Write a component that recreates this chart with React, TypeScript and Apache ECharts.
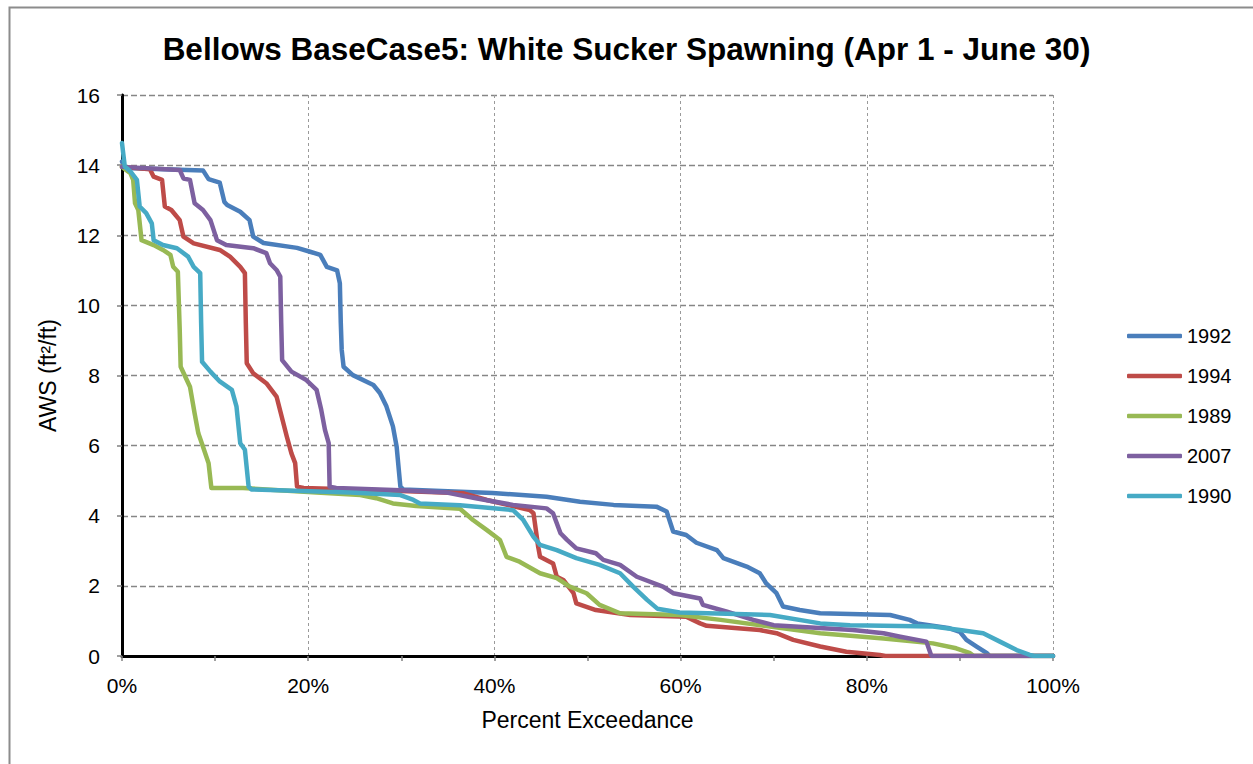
import React, { useEffect, useRef } from "react";
import * as echarts from "echarts";

const seriesNames = ["1992", "1994", "1989", "2007", "1990"];
const seriesColors = ["#4A7EBB", "#BE4B48", "#98B954", "#7D60A0", "#46AAC5"];

const pct1992 = [0, 0.3, 8.7, 9.3, 10.5, 11.0, 11.3, 12.7, 13.7, 14.1, 15.2, 18.8, 20.2, 21.3, 22.0, 23.1, 23.4, 23.5, 23.6, 23.8, 24.8, 27.0, 27.7, 28.4, 29.1, 29.5, 29.9, 30.2, 39.8, 45.6, 49.2, 52.8, 57.4, 58.5, 59.2, 60.6, 61.7, 63.9, 64.6, 67.1, 68.5, 69.2, 70.3, 71.0, 72.8, 75.0, 82.5, 84.6, 85.4, 88.9, 90.0, 90.7, 91.8, 92.9, 93.2, 100];
const aws1992 = [14.1, 13.92, 13.85, 13.6, 13.5, 12.95, 12.86, 12.67, 12.43, 11.96, 11.78, 11.64, 11.53, 11.44, 11.1, 11.0, 10.63, 9.5, 8.73, 8.25, 8.01, 7.73, 7.5, 7.12, 6.55, 5.97, 4.83, 4.75, 4.65, 4.54, 4.4, 4.31, 4.26, 4.12, 3.55, 3.45, 3.23, 3.02, 2.79, 2.55, 2.36, 2.07, 1.79, 1.41, 1.31, 1.22, 1.17, 1.03, 0.93, 0.79, 0.69, 0.46, 0.27, 0.08, 0, 0];

const pct1994 = [0, 3.0, 3.4, 4.3, 4.6, 5.3, 6.2, 6.6, 7.7, 10.5, 11.6, 12.7, 13.2, 13.3, 13.4, 14.1, 15.5, 16.6, 17.7, 18.2, 18.6, 18.8, 19.5, 27.7, 36.7, 39.2, 43.8, 44.2, 44.7, 44.9, 46.3, 46.7, 47.4, 48.5, 48.8, 50.9, 54.6, 60.6, 62.1, 62.8, 68.5, 70.3, 72.1, 75.0, 77.8, 81.4, 82.0, 100];
const aws1994 = [13.95, 13.88, 13.67, 13.58, 12.82, 12.72, 12.43, 11.96, 11.77, 11.58, 11.39, 11.1, 10.92, 9.5, 8.35, 8.06, 7.78, 7.4, 6.26, 5.78, 5.5, 4.83, 4.79, 4.73, 4.64, 4.45, 4.16, 4.07, 3.12, 2.83, 2.64, 2.26, 2.17, 1.79, 1.5, 1.31, 1.17, 1.12, 0.93, 0.86, 0.74, 0.65, 0.46, 0.27, 0.12, 0.03, 0, 0];

const pct1989 = [0, 0.9, 1.2, 1.4, 1.75, 2.1, 3.4, 4.4, 5.2, 5.5, 6.0, 6.2, 6.3, 7.3, 7.8, 8.2, 8.7, 9.3, 9.6, 13.0, 20.9, 25.6, 27.3, 29.1, 31.6, 36.3, 37.7, 39.2, 40.6, 41.3, 42.7, 44.9, 46.7, 48.1, 49.9, 51.3, 53.5, 59.9, 64.3, 69.6, 75.0, 81.8, 87.1, 89.6, 91.1, 91.5, 100];
const aws1989 = [13.95, 13.77, 13.58, 12.91, 12.72, 11.86, 11.72, 11.58, 11.44, 11.1, 10.96, 9.3, 8.25, 7.68, 6.92, 6.35, 5.97, 5.5, 4.79, 4.79, 4.66, 4.59, 4.5, 4.35, 4.28, 4.2, 3.88, 3.59, 3.31, 2.83, 2.69, 2.36, 2.22, 1.98, 1.79, 1.46, 1.22, 1.17, 1.03, 0.84, 0.65, 0.5, 0.36, 0.22, 0.08, 0, 0];

const pct2007 = [0, 6.2, 6.6, 7.3, 7.8, 8.7, 9.5, 10.2, 11.2, 14.1, 15.5, 15.9, 16.6, 17.0, 17.1, 17.2, 18.2, 19.8, 20.9, 21.4, 21.8, 22.2, 22.3, 23.0, 29.9, 34.9, 38.0, 42.0, 45.6, 46.3, 47.1, 47.8, 48.8, 50.9, 51.7, 53.5, 55.3, 58.1, 59.2, 62.1, 62.4, 64.9, 67.8, 70.0, 78.5, 81.8, 83.6, 86.4, 86.9, 87.0, 100];
const aws2007 = [13.95, 13.86, 13.62, 13.58, 12.91, 12.72, 12.43, 11.86, 11.72, 11.63, 11.49, 11.2, 11.01, 10.82, 9.5, 8.44, 8.11, 7.87, 7.59, 7.02, 6.45, 6.07, 4.83, 4.79, 4.73, 4.66, 4.5, 4.31, 4.21, 4.07, 3.5, 3.31, 3.07, 2.93, 2.74, 2.6, 2.26, 1.98, 1.79, 1.64, 1.46, 1.27, 1.03, 0.88, 0.74, 0.65, 0.55, 0.41, 0.03, 0, 0];

const pct1990 = [0, 0.3, 0.9, 1.6, 1.9, 2.6, 3.2, 3.4, 4.4, 5.9, 7.1, 7.7, 8.4, 8.5, 8.6, 9.5, 10.5, 11.8, 12.3, 12.7, 13.2, 13.6, 13.9, 24.5, 29.9, 31.3, 32.0, 36.3, 42.0, 43.1, 44.2, 44.9, 46.7, 48.8, 51.3, 53.5, 54.9, 56.4, 57.5, 59.9, 69.6, 75.0, 78.2, 87.1, 90.0, 92.5, 94.3, 96.1, 97.5, 98.0, 100];
const aws1990 = [14.63, 13.96, 13.82, 13.58, 12.82, 12.63, 12.34, 11.86, 11.72, 11.63, 11.39, 11.1, 10.92, 9.5, 8.39, 8.11, 7.83, 7.59, 7.11, 6.07, 5.88, 4.83, 4.75, 4.66, 4.59, 4.45, 4.35, 4.3, 4.16, 3.88, 3.4, 3.17, 3.02, 2.79, 2.6, 2.36, 1.98, 1.6, 1.35, 1.24, 1.17, 0.93, 0.88, 0.84, 0.74, 0.65, 0.41, 0.17, 0.03, 0, 0];

const xs = [pct1992, pct1994, pct1989, pct2007, pct1990];
const ys = [aws1992, aws1994, aws1989, aws2007, aws1990];

const FONT = "'Liberation Sans', Arial, sans-serif";

export default function App() {
  const ref = useRef<HTMLDivElement>(null);
  useEffect(() => {
    if (!ref.current) return;
    const chart = echarts.init(ref.current, null, { renderer: "svg" });
    const series = seriesNames.map((name, i) => ({
      name,
      type: "line",
      data: xs[i].map((x, j) => [x, ys[i][j]]),
      showSymbol: false,
      symbol: "none",
      lineStyle: { width: 4.5, color: seriesColors[i], cap: "round", join: "round" },
      itemStyle: { color: seriesColors[i] },
      z: 3 + i,
    }));
    chart.setOption({
      animation: false,
      backgroundColor: "#ffffff",
      textStyle: { fontFamily: FONT },
      title: {
        text: "Bellows BaseCase5: White Sucker Spawning (Apr 1 - June 30)",
        left: "center",
        top: 28,
        padding: [5, 0, 5, 7],
        textStyle: { fontFamily: FONT, fontSize: 31.5, fontWeight: "bold", color: "#000" },
      },
      graphic: [
        {
          type: "rect",
          left: 7,
          top: 5,
          shape: { width: 1300, height: 800 },
          style: { fill: "none", stroke: "#8c8c8c", lineWidth: 2 },
          z: -1,
        },
      ],
      legend: {
        orient: "vertical",
        left: 1122,
        top: 321,
        icon: "roundRect",
        itemWidth: 55,
        itemHeight: 4.5,
        itemGap: 20,
        textStyle: { fontFamily: FONT, fontSize: 20, color: "#000" },
        data: seriesNames,
      },
      grid: { left: 122, top: 95, right: 200, bottom: 108, containLabel: false },
      xAxis: [
        {
          type: "value",
          min: 0,
          max: 100,
          interval: 20,
          name: "Percent Exceedance",
          nameLocation: "middle",
          nameGap: 52,
          nameTextStyle: { fontFamily: FONT, fontSize: 23, color: "#000" },
          axisLine: { show: true, lineStyle: { color: "#4d4d4d", width: 2.5 } },
          axisTick: { show: true, inside: false, length: 5, lineStyle: { color: "#808080", width: 1.5 } },
          minorTick: { show: true, splitNumber: 2, length: 5, lineStyle: { color: "#808080", width: 1.5 } },
          axisLabel: { formatter: (v: number) => `${v}%`, margin: 19, fontFamily: FONT, fontSize: 21, color: "#000" },
          splitLine: { show: true, lineStyle: { color: "#9a9a9a", width: 1, type: [3, 3] } },
        },
        {
          type: "value",
          position: "top",
          min: 0,
          max: 100,
          axisLine: { show: true, lineStyle: { color: "#000", width: 3 } },
          axisTick: { show: false },
          axisLabel: { show: false },
          splitLine: { show: false },
        },
      ],
      yAxis: [
        {
          type: "value",
          min: 0,
          max: 16,
          interval: 2,
          name: "AWS (ft²/ft)",
          nameLocation: "middle",
          nameGap: 63,
          nameTextStyle: { fontFamily: FONT, fontSize: 23, color: "#000" },
          axisLine: { show: true, lineStyle: { color: "#7f7f7f", width: 2.5 } },
          axisTick: { show: true, inside: false, length: 5, lineStyle: { color: "#808080", width: 1.5 } },
          axisLabel: { margin: 22, fontFamily: FONT, fontSize: 21, color: "#000" },
          splitLine: { show: true, lineStyle: { color: "#868686", width: 1.3, type: [6, 3] } },
        },
        {
          type: "value",
          position: "right",
          min: 0,
          max: 16,
          axisLine: { show: true, lineStyle: { color: "#000", width: 3 } },
          axisTick: { show: false },
          axisLabel: { show: false },
          splitLine: { show: false },
        },
      ],
      series,
    });
    return () => chart.dispose();
  }, []);
  return (
    <div
      ref={ref}
      style={{ position: "absolute", left: 0, top: 0, width: 1253, height: 764 }}
    />
  );
}
